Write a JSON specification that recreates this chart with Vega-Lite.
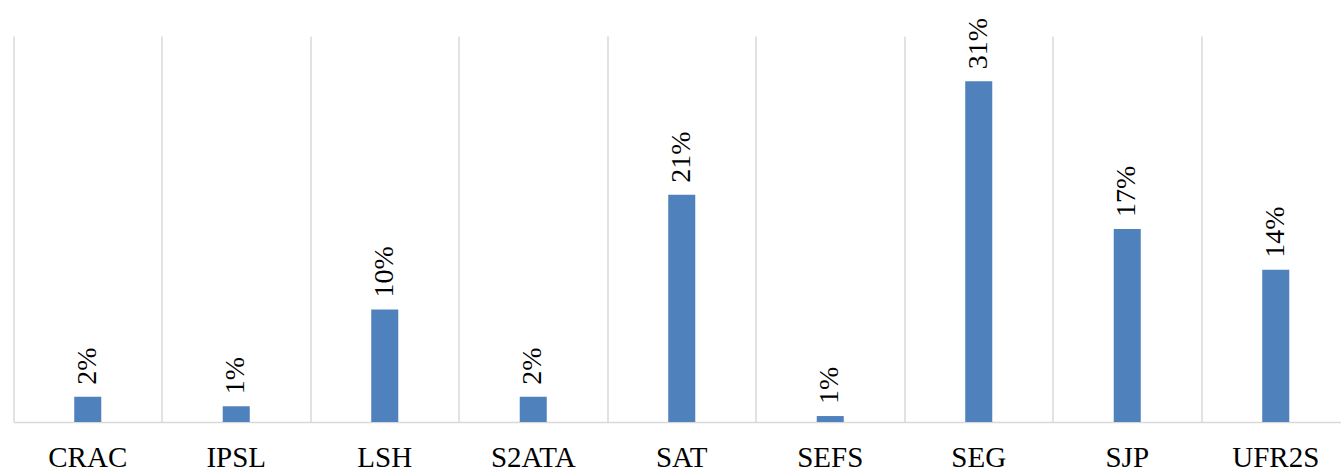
{
  "$schema": "https://vega.github.io/schema/vega-lite/v6.json",
  "width": 1328,
  "height": 386,
  "autosize": {"type": "none"},
  "padding": {"left": 13.5, "top": 36, "right": 0, "bottom": 51},
  "background": "white",
  "config": {"view": {"stroke": null}},
  "data": {
    "values": [
      {"entite": "CRAC", "part": 0.023, "label": "2%"},
      {"entite": "IPSL", "part": 0.0142, "label": "1%"},
      {"entite": "LSH", "part": 0.102, "label": "10%"},
      {"entite": "S2ATA", "part": 0.023, "label": "2%"},
      {"entite": "SAT", "part": 0.206, "label": "21%"},
      {"entite": "SEFS", "part": 0.0054, "label": "1%"},
      {"entite": "SEG", "part": 0.309, "label": "31%"},
      {"entite": "SJP", "part": 0.175, "label": "17%"},
      {"entite": "UFR2S", "part": 0.138, "label": "14%"}
    ]
  },
  "encoding": {
    "x": {
      "field": "entite",
      "type": "nominal",
      "sort": null,
      "scale": {"range": [0, 1336.5], "paddingInner": 0, "paddingOuter": 0},
      "axis": {
        "title": null,
        "labelAngle": 0,
        "labelFont": "Liberation Serif",
        "labelFontSize": 29,
        "labelColor": "#000000",
        "labelBaseline": "alphabetic",
        "labelPadding": 44,
        "ticks": false,
        "domainColor": "#d9d9d9",
        "domainWidth": 1.5,
        "grid": true,
        "gridColor": "#d9d9d9",
        "gridWidth": 1.5,
        "bandPosition": 0
      }
    },
    "y": {
      "field": "part",
      "type": "quantitative",
      "scale": {"domain": [0, 0.35]},
      "axis": null
    }
  },
  "layer": [
    {
      "mark": {"type": "bar", "color": "#4f81bd", "width": {"band": 0.182}}
    },
    {
      "mark": {
        "type": "text",
        "angle": 270,
        "align": "left",
        "baseline": "middle",
        "dx": 12,
        "font": "Liberation Serif",
        "fontSize": 28,
        "color": "#000000"
      },
      "encoding": {"text": {"field": "label"}}
    }
  ]
}
